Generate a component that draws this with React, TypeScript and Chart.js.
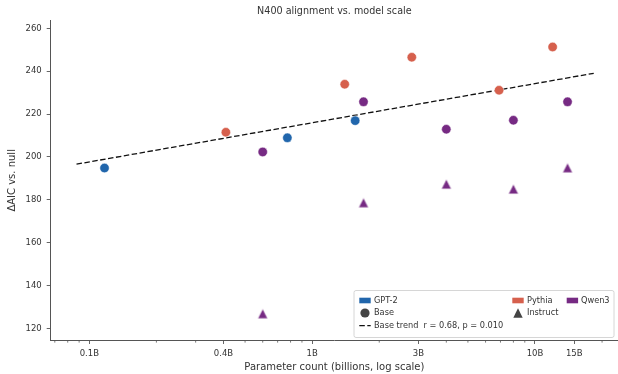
import { useEffect, useRef } from "react";
import { Chart, registerables } from "chart.js";

Chart.register(...registerables);

// ---- data ----
const gpt2Params = [0.117, 0.774, 1.56];
const gpt2Base = [194.8, 208.9, 216.9];
const pythiaParams = [0.41, 1.4, 2.8, 6.9, 12];
const pythiaBase = [211.5, 233.9, 246.5, 231.1, 251.3];
const qwenParams = [0.6, 1.7, 4, 8, 14];
const qwenBase = [202.3, 225.7, 212.9, 217.1, 225.7];
const qwenInstruct = [126.8, 178.6, 187.3, 185.0, 194.9];
const trendParams = [0.0876, 18.35];
const trendValues = [196.6, 239.0];

const xTickValues = [0.1, 0.4, 1, 3, 10, 15];
const xTickLabels = ["0.1B", "0.4B", "1B", "3B", "10B", "15B"];
const xMinorTicks = [0.07, 0.08, 0.09, 0.2, 0.3, 0.5, 0.6, 0.7, 0.8, 0.9, 2, 4, 5, 6, 7, 8, 9, 20];
const yTickValues = [120, 140, 160, 180, 200, 220, 240, 260];

const titleText = "N400 alignment vs. model scale";
const xTitle = "Parameter count (billions, log scale)";
const yTitle = "ΔAIC vs. null";
const trendLabel = "Base trend  r = 0.68, p = 0.010";

const BLUE = "#2166ac";
const RED = "#d6604d";
const PURPLE = "#762a83";
const TEXT = "#333333";
const SPINE = "#555555";
const FONT = "'DejaVu Sans', sans-serif";

function pts(xs: number[], ys: number[]) {
  return xs.map((x, i) => ({ x, y: ys[i] }));
}

function makeTriangle(color: string, size: number) {
  const c = document.createElement("canvas");
  const s = Math.ceil(size) + 2;
  c.width = s;
  c.height = s;
  const g = c.getContext("2d")!;
  const cx = s / 2;
  const cy = s / 2;
  g.beginPath();
  g.moveTo(cx, cy - size / 2);
  g.lineTo(cx - size / 2, cy + size / 2);
  g.lineTo(cx + size / 2, cy + size / 2);
  g.closePath();
  g.fillStyle = color;
  g.fill();
  g.strokeStyle = "rgba(255,255,255,0.8)";
  g.lineWidth = 0.5;
  g.stroke();
  return c;
}

function drawTri(ctx: CanvasRenderingContext2D, cx: number, cy: number, size: number, color: string) {
  ctx.beginPath();
  ctx.moveTo(cx, cy - size / 2);
  ctx.lineTo(cx - size / 2, cy + size / 2);
  ctx.lineTo(cx + size / 2, cy + size / 2);
  ctx.closePath();
  ctx.fillStyle = color;
  ctx.fill();
}

const overlayPlugin = {
  id: "overlay",
  afterDraw(chart: any) {
    const ctx: CanvasRenderingContext2D = chart.ctx;
    const area = chart.chartArea;
    const xs = chart.scales.x;
    ctx.save();
    // minor ticks
    ctx.strokeStyle = SPINE;
    ctx.lineWidth = 0.8;
    for (const v of xMinorTicks) {
      const px = xs.getPixelForValue(v);
      if (px < area.left || px > area.right) continue;
      ctx.beginPath();
      ctx.moveTo(px, area.bottom);
      ctx.lineTo(px, area.bottom + 2.6);
      ctx.stroke();
    }
    // title
    ctx.fillStyle = TEXT;
    ctx.font = `9.6px ${FONT}`;
    ctx.textAlign = "center";
    ctx.textBaseline = "middle";
    ctx.fillText(titleText, (area.left + area.right) / 2, 11);

    // legend
    const bx = 354, by = 290.5, bw = 260, bh = 47;
    ctx.beginPath();
    (ctx as any).roundRect(bx, by, bw, bh, 2);
    ctx.fillStyle = "rgba(255,255,255,0.85)";
    ctx.fill();
    ctx.strokeStyle = "#cccccc";
    ctx.lineWidth = 0.8;
    ctx.stroke();

    const r1 = 300.5, r2 = 313, r3 = 325.7;
    const c1 = 359.3, c2 = 512.3, c3 = 566.7;
    const hw = 11.4;
    const t1 = 374, t2 = 527, t3 = 581;
    ctx.fillStyle = BLUE;
    ctx.fillRect(c1, r1 - 2.8, hw, 5.6);
    ctx.fillStyle = RED;
    ctx.fillRect(c2, r1 - 2.8, hw, 5.6);
    ctx.fillStyle = PURPLE;
    ctx.fillRect(c3, r1 - 2.8, hw, 5.6);
    // Base circle
    ctx.beginPath();
    ctx.arc(c1 + hw / 2, r2, 4.6, 0, Math.PI * 2);
    ctx.fillStyle = "#444444";
    ctx.fill();
    // Instruct triangle
    drawTri(ctx, c2 + hw / 2, r2, 9.4, "#444444");
    // dashed line
    ctx.beginPath();
    ctx.setLineDash([5.5, 2.5]);
    ctx.moveTo(c1, r3);
    ctx.lineTo(c1 + hw, r3);
    ctx.strokeStyle = "#111111";
    ctx.lineWidth = 1.3;
    ctx.stroke();
    ctx.setLineDash([]);

    ctx.fillStyle = TEXT;
    ctx.font = `8.2px ${FONT}`;
    ctx.textAlign = "left";
    ctx.textBaseline = "middle";
    ctx.fillText("GPT-2", t1, r1);
    ctx.fillText("Pythia", t2, r1);
    ctx.fillText("Qwen3", t3, r1);
    ctx.fillText("Base", t1, r2);
    ctx.fillText("Instruct", t2, r2);
    ctx.fillText(trendLabel, t1, r3);
    ctx.restore();
  },
};

export default function App() {
  const ref = useRef<HTMLCanvasElement | null>(null);

  useEffect(() => {
    document.body.style.margin = "0";
    const canvas = ref.current!;
    const triPurple = makeTriangle(PURPLE, 9.6);

    const circleBase = {
      pointStyle: "circle",
      pointRadius: 4.7,
      pointBorderColor: "#ffffff",
      pointBorderWidth: 0.5,
      showLine: false,
    };

    const chart = new Chart(canvas, {
      type: "scatter",
      data: {
        datasets: [
          { label: "GPT-2", data: pts(gpt2Params, gpt2Base), pointBackgroundColor: BLUE, ...circleBase } as any,
          { label: "Pythia", data: pts(pythiaParams, pythiaBase), pointBackgroundColor: RED, ...circleBase } as any,
          { label: "Qwen3", data: pts(qwenParams, qwenBase), pointBackgroundColor: PURPLE, ...circleBase } as any,
          {
            label: "Qwen3 Instruct",
            data: pts(qwenParams, qwenInstruct),
            pointStyle: triPurple,
            pointRadius: 5,
            showLine: false,
          } as any,
          {
            label: "Base trend",
            data: pts(trendParams, trendValues),
            showLine: true,
            pointRadius: 0,
            borderColor: "#111111",
            borderWidth: 1.3,
            borderDash: [5.5, 2.5],
            order: 10,
          } as any,
        ],
      },
      options: {
        animation: false,
        responsive: false,
        devicePixelRatio: 1,
        layout: { autoPadding: false, padding: { top: 20.7, right: 0, left: 0, bottom: 0 } },
        plugins: {
          legend: { display: false },
          tooltip: { enabled: false },
          title: { display: false },
        },
        scales: {
          x: {
            type: "logarithmic",
            position: "bottom",
            min: 0.06709,
            max: 23.58,
            afterBuildTicks: (s: any) => {
              s.ticks = xTickValues.map((v) => ({ value: v }));
            },
            afterFit: (s: any) => {
              s.height = 34;
              s.paddingLeft = 0;
              s.paddingRight = 0;
            },
            ticks: {
              autoSkip: false,
              maxRotation: 0,
              padding: 5,
              color: TEXT,
              font: { family: FONT, size: 8.5 },
              callback: (_v: any, i: number) => xTickLabels[i],
            },
            grid: {
              display: true,
              drawOnChartArea: false,
              drawTicks: true,
              tickLength: 4,
              tickColor: SPINE,
              tickWidth: 0.9,
            },
            border: { display: true, color: SPINE, width: 1 },
            title: {
              display: true,
              text: xTitle,
              color: TEXT,
              font: { family: FONT, size: 10 },
              padding: { top: 0, bottom: 1 },
            },
          },
          y: {
            type: "linear",
            position: "left",
            min: 114.54,
            max: 263.55,
            afterBuildTicks: (s: any) => {
              s.ticks = yTickValues.map((v) => ({ value: v }));
            },
            afterFit: (s: any) => {
              s.width = 50.7;
              s.paddingTop = 0;
              s.paddingBottom = 0;
            },
            ticks: {
              padding: 5,
              color: TEXT,
              font: { family: FONT, size: 8.5 },
            },
            grid: {
              display: true,
              drawOnChartArea: false,
              drawTicks: true,
              tickLength: 4,
              tickColor: SPINE,
              tickWidth: 0.9,
            },
            border: { display: true, color: SPINE, width: 1 },
            title: {
              display: true,
              text: yTitle,
              color: TEXT,
              font: { family: FONT, size: 10 },
              padding: { top: 6, bottom: 0 },
            },
          },
        },
      } as any,
      plugins: [overlayPlugin],
    });
    return () => chart.destroy();
  }, []);

  return (
    <div style={{ width: 618, height: 374 }}>
      <canvas ref={ref} width={618} height={374} style={{ display: "block" }} />
    </div>
  );
}
